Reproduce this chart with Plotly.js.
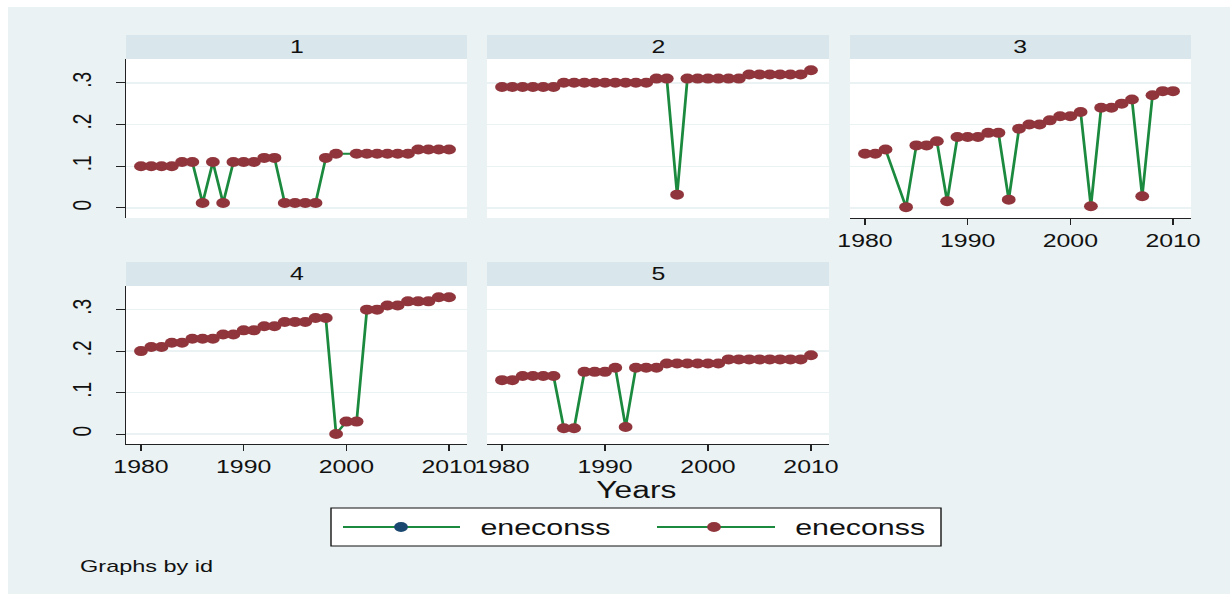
<!DOCTYPE html>
<html><head><meta charset="utf-8">
<script src="https://cdn.plot.ly/plotly-3.0.1.min.js"></script>
<style>
html,body{margin:0;padding:0;background:#fff;overflow:hidden;width:1230px;height:594px;}
#wrap{position:absolute;left:0;top:0;width:891px;height:594px;transform:scaleX(1.380471);transform-origin:0 0;}
#chart{width:891px;height:594px;}
.wm{position:absolute;background:#fff;}
</style></head><body>
<div id="wrap"><div id="chart"></div></div>
<div class="wm" style="left:0;top:0;width:1230px;height:7px"></div>
<div class="wm" style="left:0;top:0;width:8px;height:594px"></div>
<script>
// ---- data ----
const years = [1980,1981,1982,1983,1984,1985,1986,1987,1988,1989,1990,1991,1992,1993,1994,1995,1996,1997,1998,1999,2000,2001,2002,2003,2004,2005,2006,2007,2008,2009,2010];
const panelIds = ["1","2","3","4","5"];
const id1 = [0.10,0.10,0.10,0.10,0.11,0.11,0.012,0.11,0.012,0.11,0.11,0.11,0.12,0.12,0.012,0.012,0.012,0.012,0.12,0.13,null,0.13,0.13,0.13,0.13,0.13,0.13,0.14,0.14,0.14,0.14];
const id2 = [0.29,0.29,0.29,0.29,0.29,0.29,0.30,0.30,0.30,0.30,0.30,0.30,0.30,0.30,0.30,0.31,0.31,0.032,0.31,0.31,0.31,0.31,0.31,0.31,0.32,0.32,0.32,0.32,0.32,0.32,0.33];
const id3 = [0.13,0.13,0.14,null,0.002,0.15,0.15,0.16,0.016,0.17,0.17,0.17,0.18,0.18,0.02,0.19,0.20,0.20,0.21,0.22,0.22,0.23,0.004,0.24,0.24,0.25,0.26,0.028,0.27,0.28,0.28];
const id4 = [0.20,0.21,0.21,0.22,0.22,0.23,0.23,0.23,0.24,0.24,0.25,0.25,0.26,0.26,0.27,0.27,0.27,0.28,0.28,0.0,0.03,0.03,0.30,0.30,0.31,0.31,0.32,0.32,0.32,0.33,0.33];
const id5 = [0.13,0.13,0.14,0.14,0.14,0.14,0.014,0.014,0.15,0.15,0.15,0.16,0.017,0.16,0.16,0.16,0.17,0.17,0.17,0.17,0.17,0.17,0.18,0.18,0.18,0.18,0.18,0.18,0.18,0.18,0.19];
const series = [id1,id2,id3,id4,id5];
const xTicks = [1980,1990,2000,2010];
const yTicks = [0,0.1,0.2,0.3];
const yTickText = ["0",".1",".2",".3"];
const seriesName = "eneconss";
const xTitle = "Years";
const note = "Graphs by id";

// ---- layout helpers (reference pixel -> paper fraction) ----
const RW = 1230, RH = 594;
const fx = p => p / RW;
const fy = p => 1 - p / RH;

const GREEN = "#1b8a3e", MAROON = "#90353b", NAVY = "#1a476f";
const BG = "#eaf2f3", STRIP = "#d9e6eb";
const FONT = "Liberation Sans, Arial, sans-serif";

const cols = [[126,467],[487,829],[850,1191]];
const rows = [[59,218],[286,444]];
const stripRows = [[35,59],[262,286]];
const cells = [[0,0],[0,1],[0,2],[1,0],[1,1]]; // [row, col]
const showX = [false,false,true,true,true];
const showY = [true,false,false,true,false];

const data = [];
const layout = {
  width: 891, height: 594,
  margin: {l:0,r:0,t:0,b:0,pad:0},
  paper_bgcolor: BG, plot_bgcolor: "#ffffff",
  showlegend: false,
  font: {family: FONT, color: "#111", size: 17},
  shapes: [], annotations: []
};

cells.forEach(([r,c], i) => {
  const n = i === 0 ? "" : String(i+1);
  data.push({
    x: years, y: series[i], type: "scatter", mode: "lines+markers",
    connectgaps: true, name: seriesName,
    xaxis: "x"+n, yaxis: "y"+n,
    line: {color: GREEN, width: 2},
    marker: {color: MAROON, size: 10, line: {width: 0}},
    hoverinfo: "skip"
  });
  layout["xaxis"+n] = {
    domain: [fx(cols[c][0]), fx(cols[c][1])],
    anchor: "y"+n,
    range: [1978.54, 2011.75],
    tickvals: xTicks, ticktext: xTicks.map(String),
    showgrid: false, zeroline: false,
    showline: showX[i], linecolor: "#222", linewidth: 1,
    ticks: showX[i] ? "outside" : "", ticklen: 6, tickcolor: "#222", tickwidth: 1,
    showticklabels: showX[i],
    tickfont: {family: FONT, size: 18, color: "#111"},
    fixedrange: true
  };
  layout["yaxis"+n] = {
    domain: [fy(rows[r][1]), fy(rows[r][0])],
    anchor: "x"+n,
    range: [-0.024, 0.357],
    tickvals: yTicks, ticktext: yTickText,
    showgrid: true, gridcolor: BG, gridwidth: 1.5,
    zeroline: false,
    showline: showY[i], linecolor: "#222", linewidth: 1,
    ticks: showY[i] ? "outside" : "", ticklen: 6.5, tickcolor: "#222", tickwidth: 1,
    showticklabels: showY[i], tickangle: -90,
    ticklabelstandoff: 10,
    tickfont: {family: FONT, size: 19, color: "#111"},
    fixedrange: true
  };
  // strip
  layout.shapes.push({type:"rect", xref:"paper", yref:"paper",
    x0: fx(cols[c][0]), x1: fx(cols[c][1]), y0: fy(stripRows[r][1]), y1: fy(stripRows[r][0]),
    fillcolor: STRIP, line: {width: 0}, layer: "above"});
  layout.annotations.push({xref:"paper", yref:"paper",
    x: fx((cols[c][0]+cols[c][1])/2), y: fy((stripRows[r][0]+stripRows[r][1])/2),
    text: panelIds[i], showarrow: false, xanchor: "center", yanchor: "middle",
    font: {family: FONT, size: 18, color: "#111"}});
});

// x title & note
layout.annotations.push({xref:"paper", yref:"paper", x: fx(636), y: fy(490),
  text: xTitle, showarrow:false, xanchor:"center", yanchor:"middle",
  font:{family: FONT, size: 23, color:"#111"}});
layout.annotations.push({xref:"paper", yref:"paper", x: fx(77), y: fy(566),
  text: note, showarrow:false, xanchor:"left", yanchor:"middle",
  font:{family: FONT, size: 17, color:"#111"}});

// legend (drawn manually)
layout.shapes.push({type:"rect", xref:"paper", yref:"paper",
  x0: fx(331), x1: fx(941), y0: fy(546), y1: fy(508),
  fillcolor:"#ffffff", line:{color:"#111", width:1}, layer:"above"});
const legItems = [{l0:343,l1:460,m:401,t:477,col:NAVY},{l0:657,l1:775,m:714,t:792,col:MAROON}];
legItems.forEach(it => {
  layout.shapes.push({type:"line", xref:"paper", yref:"paper",
    x0: fx(it.l0), x1: fx(it.l1), y0: fy(527), y1: fy(527),
    line:{color: GREEN, width: 2}, layer:"above"});
  layout.shapes.push({type:"circle", xref:"paper", yref:"paper",
    xsizemode:"pixel", ysizemode:"pixel", xanchor: fx(it.m), yanchor: fy(527),
    x0:-5, x1:5, y0:-5, y1:5,
    fillcolor: it.col, line:{width:0}, layer:"above"});
  layout.annotations.push({xref:"paper", yref:"paper", x: fx(it.t), y: fy(527),
    text: seriesName, showarrow:false, xanchor:"left", yanchor:"middle",
    font:{family: FONT, size: 22, color:"#111"}});
});

Plotly.newPlot("chart", data, layout, {staticPlot:true, displayModeBar:false});
</script>
</body></html>
